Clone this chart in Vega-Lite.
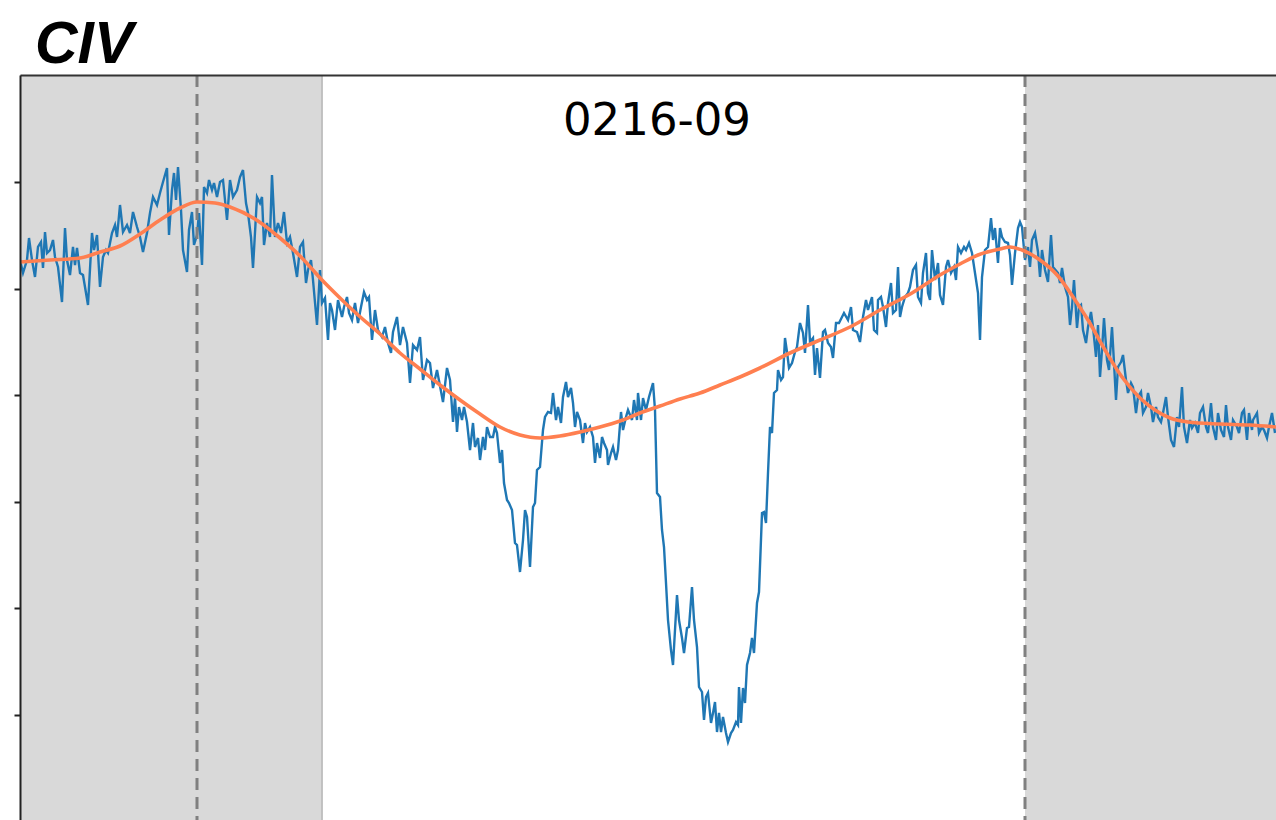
{
  "$schema": "https://vega.github.io/schema/vega-lite/v6.json",
  "width": 1256,
  "height": 745,
  "autosize": {"type": "none"},
  "padding": {"left": 20, "top": 75, "right": 0, "bottom": 0},
  "background": "white",
  "config": {"view": {"stroke": null}, "font": "DejaVu Sans"},
  "title": {
    "text": "CIV",
    "anchor": "start",
    "frame": "group",
    "font": "Liberation Sans",
    "fontSize": 59,
    "fontWeight": "bold",
    "fontStyle": "italic",
    "color": "black",
    "dx": 15,
    "offset": -1
  },
  "datasets": {
    "bands": [
      {"start": 0, "end": 302},
      {"start": 1005, "end": 1300}
    ],
    "markers": [{"x": 177}, {"x": 1005}],
    "label": [{"x": 637, "flux": 685, "text": "0216-09"}],
    "spectrum": [
      {"x":0,"flux":560},{"x":3,"flux":547},{"x":7,"flux":560},{"x":9,"flux":582},{"x":12,"flux":560},{"x":15,"flux":543},{"x":18,"flux":573},{"x":21,"flux":578},{"x":23,"flux":552},{"x":25,"flux":588},{"x":27,"flux":567},{"x":30,"flux":570},{"x":33,"flux":580},{"x":35,"flux":563},{"x":38,"flux":553},{"x":42,"flux":518},{"x":45,"flux":592},{"x":47,"flux":560},{"x":50,"flux":545},{"x":53,"flux":573},{"x":55,"flux":555},{"x":57,"flux":572},{"x":60,"flux":547},{"x":63,"flux":545},{"x":65,"flux":533},{"x":68,"flux":515},{"x":72,"flux":587},{"x":74,"flux":570},{"x":77,"flux":585},{"x":80,"flux":533},{"x":83,"flux":563},{"x":86,"flux":570},{"x":88,"flux":567},{"x":92,"flux":587},{"x":95,"flux":595},{"x":97,"flux":583},{"x":100,"flux":615},{"x":103,"flux":588},{"x":107,"flux":595},{"x":110,"flux":587},{"x":113,"flux":608},{"x":117,"flux":593},{"x":120,"flux":583},{"x":123,"flux":568},{"x":127,"flux":587},{"x":130,"flux":607},{"x":133,"flux":623},{"x":137,"flux":615},{"x":140,"flux":627},{"x":143,"flux":638},{"x":147,"flux":652},{"x":149,"flux":585},{"x":152,"flux":630},{"x":154,"flux":647},{"x":156,"flux":620},{"x":158,"flux":653},{"x":161,"flux":610},{"x":163,"flux":570},{"x":167,"flux":548},{"x":169,"flux":590},{"x":172,"flux":608},{"x":174,"flux":575},{"x":177,"flux":585},{"x":179,"flux":607},{"x":182,"flux":555},{"x":184,"flux":633},{"x":187,"flux":627},{"x":189,"flux":640},{"x":192,"flux":630},{"x":194,"flux":637},{"x":197,"flux":623},{"x":200,"flux":638},{"x":203,"flux":640},{"x":207,"flux":600},
      {"x":210,"flux":640},{"x":213,"flux":623},{"x":217,"flux":630},{"x":220,"flux":643},{"x":223,"flux":650},{"x":226,"flux":617},{"x":228,"flux":607},{"x":231,"flux":583},{"x":233,"flux":552},{"x":237,"flux":623},{"x":240,"flux":617},{"x":242,"flux":623},{"x":244,"flux":575},{"x":247,"flux":597},{"x":250,"flux":583},{"x":252,"flux":645},{"x":255,"flux":583},{"x":258,"flux":597},{"x":261,"flux":587},{"x":264,"flux":608},{"x":267,"flux":577},{"x":270,"flux":583},{"x":273,"flux":567},{"x":277,"flux":543},{"x":280,"flux":573},{"x":283,"flux":578},{"x":286,"flux":537},{"x":288,"flux":550},{"x":291,"flux":560},{"x":293,"flux":540},{"x":297,"flux":495},{"x":300,"flux":550},{"x":302,"flux":517},{"x":305,"flux":522},{"x":308,"flux":480},{"x":310,"flux":517},{"x":312,"flux":510},{"x":315,"flux":490},{"x":318,"flux":520},{"x":322,"flux":503},{"x":324,"flux":513},{"x":327,"flux":523},{"x":329,"flux":507},{"x":332,"flux":500},{"x":335,"flux":517},{"x":338,"flux":497},{"x":341,"flux":513},{"x":344,"flux":528},{"x":347,"flux":520},{"x":349,"flux":523},{"x":352,"flux":480},{"x":355,"flux":510},{"x":358,"flux":490},{"x":362,"flux":483},{"x":365,"flux":493},{"x":368,"flux":477},{"x":371,"flux":467},{"x":373,"flux":488},{"x":377,"flux":503},{"x":380,"flux":475},{"x":383,"flux":493},{"x":387,"flux":477},{"x":390,"flux":437},{"x":393,"flux":475},{"x":397,"flux":470},{"x":400,"flux":483},{"x":403,"flux":440},{"x":407,"flux":460},{"x":410,"flux":457},{"x":413,"flux":432},{"x":417,"flux":450},
      {"x":423,"flux":418},{"x":427,"flux":452},{"x":430,"flux":440},{"x":433,"flux":398},{"x":435,"flux":423},{"x":437,"flux":388},{"x":439,"flux":413},{"x":442,"flux":400},{"x":444,"flux":413},{"x":447,"flux":398},{"x":450,"flux":370},{"x":453,"flux":397},{"x":455,"flux":373},{"x":458,"flux":382},{"x":460,"flux":360},{"x":463,"flux":383},{"x":465,"flux":370},{"x":467,"flux":393},{"x":470,"flux":383},{"x":473,"flux":383},{"x":475,"flux":393},{"x":477,"flux":387},{"x":480,"flux":357},{"x":482,"flux":370},{"x":484,"flux":337},{"x":487,"flux":320},{"x":489,"flux":317},{"x":492,"flux":310},{"x":495,"flux":277},{"x":497,"flux":275},{"x":500,"flux":248},{"x":503,"flux":280},{"x":505,"flux":310},{"x":507,"flux":303},{"x":510,"flux":253},{"x":513,"flux":313},{"x":515,"flux":317},{"x":517,"flux":350},{"x":520,"flux":353},{"x":523,"flux":390},{"x":525,"flux":403},{"x":528,"flux":408},{"x":531,"flux":407},{"x":533,"flux":427},{"x":536,"flux":400},{"x":538,"flux":413},{"x":541,"flux":397},{"x":543,"flux":423},{"x":546,"flux":438},{"x":548,"flux":423},{"x":551,"flux":432},{"x":553,"flux":417},{"x":555,"flux":393},{"x":557,"flux":408},{"x":560,"flux":400},{"x":563,"flux":377},{"x":565,"flux":397},{"x":567,"flux":388},{"x":570,"flux":393},{"x":573,"flux":383},{"x":575,"flux":357},{"x":577,"flux":377},{"x":580,"flux":362},{"x":582,"flux":383},{"x":584,"flux":377},{"x":587,"flux":370},{"x":588,"flux":355},{"x":591,"flux":367},{"x":593,"flux":373},{"x":596,"flux":360},{"x":598,"flux":370},{"x":601,"flux":408},{"x":603,"flux":390},{"x":606,"flux":403},{"x":608,"flux":410},{"x":612,"flux":400},{"x":614,"flux":420},{"x":617,"flux":400},{"x":618,"flux":427},{"x":621,"flux":400},{"x":623,"flux":422},{"x":626,"flux":410},{"x":629,"flux":423},{"x":633,"flux":437},{"x":635,"flux":410},
      {"x":637,"flux":327},{"x":640,"flux":323},{"x":642,"flux":290},{"x":644,"flux":273},{"x":646,"flux":237},{"x":648,"flux":200},{"x":651,"flux":170},{"x":653,"flux":155},{"x":657,"flux":225},{"x":659,"flux":200},{"x":662,"flux":182},{"x":664,"flux":167},{"x":667,"flux":192},{"x":669,"flux":193},{"x":672,"flux":233},{"x":674,"flux":200},{"x":677,"flux":173},{"x":679,"flux":133},{"x":682,"flux":128},{"x":684,"flux":100},{"x":686,"flux":123},{"x":688,"flux":127},{"x":691,"flux":97},{"x":693,"flux":107},{"x":695,"flux":118},{"x":697,"flux":88},{"x":699,"flux":107},{"x":701,"flux":88},{"x":703,"flux":103},{"x":706,"flux":87},{"x":708,"flux":78},{"x":711,"flux":87},{"x":713,"flux":90},{"x":716,"flux":98},{"x":718,"flux":95},{"x":719,"flux":133},{"x":721,"flux":97},{"x":723,"flux":132},{"x":725,"flux":117},{"x":727,"flux":155},{"x":730,"flux":167},{"x":732,"flux":182},{"x":734,"flux":167},{"x":737,"flux":217},{"x":739,"flux":228},{"x":742,"flux":307},{"x":744,"flux":308},{"x":746,"flux":297},{"x":748,"flux":347},{"x":750,"flux":393},{"x":752,"flux":387},{"x":754,"flux":427},{"x":757,"flux":430},{"x":758,"flux":450},{"x":761,"flux":440},{"x":763,"flux":443},{"x":765,"flux":482},{"x":767,"flux":468},{"x":769,"flux":452},{"x":772,"flux":457},{"x":775,"flux":468},{"x":777,"flux":473},{"x":780,"flux":497},{"x":783,"flux":487},{"x":785,"flux":467},{"x":788,"flux":515},{"x":790,"flux":478},{"x":793,"flux":482},{"x":795,"flux":445},{"x":797,"flux":472},{"x":800,"flux":442},{"x":803,"flux":488},{"x":805,"flux":490},{"x":808,"flux":477},{"x":811,"flux":473},{"x":813,"flux":462},{"x":816,"flux":497},{"x":819,"flux":497},{"x":822,"flux":503},{"x":824,"flux":507},
      {"x":828,"flux":500},{"x":831,"flux":513},{"x":833,"flux":490},{"x":837,"flux":488},{"x":840,"flux":478},{"x":843,"flux":503},{"x":846,"flux":520},{"x":848,"flux":510},{"x":852,"flux":523},{"x":854,"flux":490},{"x":857,"flux":487},{"x":858,"flux":520},{"x":861,"flux":523},{"x":863,"flux":513},{"x":866,"flux":493},{"x":868,"flux":517},{"x":871,"flux":537},{"x":873,"flux":507},{"x":876,"flux":510},{"x":878,"flux":553},{"x":880,"flux":503},{"x":882,"flux":513},{"x":885,"flux":523},{"x":888,"flux":527},{"x":890,"flux":533},{"x":893,"flux":550},{"x":896,"flux":555},{"x":898,"flux":523},{"x":901,"flux":517},{"x":903,"flux":547},{"x":906,"flux":567},{"x":908,"flux":527},{"x":910,"flux":520},{"x":912,"flux":570},{"x":915,"flux":540},{"x":918,"flux":557},{"x":920,"flux":525},{"x":923,"flux":515},{"x":926,"flux":553},{"x":928,"flux":560},{"x":931,"flux":547},{"x":934,"flux":553},{"x":936,"flux":540},{"x":938,"flux":573},{"x":941,"flux":567},{"x":944,"flux":573},{"x":946,"flux":570},{"x":949,"flux":577},{"x":952,"flux":567},{"x":955,"flux":547},{"x":958,"flux":527},{"x":960,"flux":480},{"x":962,"flux":543},{"x":965,"flux":570},{"x":968,"flux":573},{"x":971,"flux":602},{"x":973,"flux":580},{"x":975,"flux":592},{"x":978,"flux":557},{"x":980,"flux":592},{"x":982,"flux":583},{"x":985,"flux":578},{"x":988,"flux":577},{"x":990,"flux":565},{"x":992,"flux":535},{"x":995,"flux":567},{"x":998,"flux":592},{"x":1000,"flux":598},{"x":1002,"flux":593},{"x":1005,"flux":560},{"x":1008,"flux":573},{"x":1010,"flux":553},{"x":1012,"flux":580},{"x":1015,"flux":587},{"x":1018,"flux":568},{"x":1020,"flux":543},{"x":1022,"flux":570},{"x":1025,"flux":550},{"x":1028,"flux":538},{"x":1031,"flux":585},{"x":1033,"flux":553},
      {"x":1038,"flux":547},{"x":1040,"flux":537},{"x":1042,"flux":552},{"x":1045,"flux":533},{"x":1048,"flux":523},{"x":1050,"flux":495},{"x":1052,"flux":513},{"x":1054,"flux":540},{"x":1057,"flux":492},{"x":1059,"flux":513},{"x":1061,"flux":515},{"x":1063,"flux":490},{"x":1066,"flux":477},{"x":1068,"flux":493},{"x":1071,"flux":508},{"x":1073,"flux":493},{"x":1076,"flux":463},{"x":1078,"flux":495},{"x":1080,"flux":443},{"x":1082,"flux":470},{"x":1084,"flux":502},{"x":1087,"flux":460},{"x":1089,"flux":450},{"x":1092,"flux":493},{"x":1094,"flux":457},{"x":1096,"flux":420},{"x":1098,"flux":453},{"x":1101,"flux":458},{"x":1103,"flux":465},{"x":1106,"flux":440},{"x":1108,"flux":427},{"x":1111,"flux":437},{"x":1113,"flux":433},{"x":1116,"flux":407},{"x":1118,"flux":423},{"x":1121,"flux":428},{"x":1123,"flux":407},{"x":1126,"flux":413},{"x":1128,"flux":427},{"x":1131,"flux":413},{"x":1133,"flux":398},{"x":1136,"flux":413},{"x":1138,"flux":403},{"x":1141,"flux":398},{"x":1143,"flux":407},{"x":1146,"flux":423},{"x":1148,"flux":403},{"x":1151,"flux":380},{"x":1154,"flux":373},{"x":1157,"flux":403},{"x":1159,"flux":393},{"x":1162,"flux":433},{"x":1164,"flux":393},{"x":1167,"flux":377},{"x":1170,"flux":400},{"x":1172,"flux":392},{"x":1175,"flux":397},{"x":1178,"flux":387},{"x":1180,"flux":407},{"x":1183,"flux":413},{"x":1186,"flux":393},{"x":1188,"flux":387},{"x":1191,"flux":417},{"x":1193,"flux":393},{"x":1196,"flux":380},{"x":1198,"flux":407},{"x":1201,"flux":390},{"x":1204,"flux":383},{"x":1206,"flux":415},{"x":1208,"flux":393},{"x":1211,"flux":380},{"x":1213,"flux":400},{"x":1217,"flux":393},{"x":1219,"flux":387},{"x":1222,"flux":407},{"x":1224,"flux":410},{"x":1227,"flux":380},{"x":1229,"flux":407},{"x":1232,"flux":390},{"x":1233,"flux":400},{"x":1237,"flux":407},{"x":1239,"flux":387},{"x":1242,"flux":393},{"x":1244,"flux":390},{"x":1247,"flux":382},{"x":1249,"flux":393},{"x":1252,"flux":407},{"x":1255,"flux":387}
    ],
    "continuum": [
      {"x":0,"flux":558},{"x":30,"flux":560},{"x":60,"flux":562},{"x":80,"flux":568},{"x":100,"flux":574},{"x":120,"flux":586},{"x":140,"flux":600},{"x":160,"flux":612},{"x":177,"flux":618},{"x":195,"flux":617},{"x":210,"flux":613},{"x":238,"flux":599},{"x":260,"flux":582},{"x":280,"flux":564},{"x":302,"flux":540},{"x":320,"flux":522},{"x":338,"flux":505},{"x":360,"flux":486},{"x":380,"flux":467},{"x":400,"flux":451},{"x":420,"flux":435},{"x":440,"flux":420},{"x":460,"flux":406},{"x":480,"flux":393},{"x":500,"flux":385},{"x":520,"flux":382},{"x":540,"flux":384},{"x":560,"flux":388},{"x":580,"flux":393},{"x":600,"flux":399},{"x":620,"flux":407},{"x":640,"flux":414},{"x":660,"flux":421},{"x":680,"flux":427},{"x":700,"flux":435},{"x":720,"flux":443},{"x":740,"flux":452},{"x":770,"flux":467},{"x":800,"flux":480},{"x":830,"flux":493},{"x":860,"flux":510},{"x":892,"flux":527},{"x":920,"flux":545},{"x":940,"flux":556},{"x":958,"flux":565},{"x":980,"flux":571},{"x":990,"flux":573},{"x":1002,"flux":570},{"x":1020,"flux":560},{"x":1038,"flux":544},{"x":1055,"flux":520},{"x":1068,"flux":500},{"x":1085,"flux":470},{"x":1102,"flux":443},{"x":1120,"flux":422},{"x":1135,"flux":410},{"x":1150,"flux":402},{"x":1168,"flux":398},{"x":1200,"flux":396},{"x":1230,"flux":395},{"x":1256,"flux":393}
    ]
  },
  "layer": [
    {
      "data": {"name": "bands"},
      "mark": {"type": "rect", "color": "#d9d9d9", "clip": true},
      "encoding": {
        "x": {
          "field": "start",
          "type": "quantitative",
          "scale": {"domain": [0, 1256], "nice": false, "zero": false},
          "axis": {"orient": "top", "labels": false, "ticks": false, "title": null, "grid": false, "domainColor": "#333333", "domainWidth": 2, "zindex": 1}
        },
        "x2": {"field": "end"}
      }
    },
    {
      "data": {"name": "bands"},
      "mark": {"type": "rule", "color": "#bdbdbd", "strokeWidth": 1.8, "clip": true},
      "encoding": {"x": {"field": "end", "type": "quantitative"}}
    },
    {
      "data": {"name": "spectrum"},
      "mark": {"type": "line", "color": "#1f77b4", "strokeWidth": 2.4, "clip": true},
      "encoding": {
        "x": {"field": "x", "type": "quantitative"},
        "y": {
          "field": "flux",
          "type": "quantitative",
          "scale": {"domain": [0, 745], "nice": false, "zero": false},
          "axis": {"values": [105, 212, 318, 425, 531, 638], "labels": false, "title": null, "grid": false, "tickSize": 6, "tickWidth": 2, "tickColor": "#222222", "domainColor": "#222222", "domainWidth": 2, "zindex": 1}
        }
      }
    },
    {
      "data": {"name": "markers"},
      "mark": {"type": "rule", "color": "#808080", "strokeWidth": 3, "strokeDash": [12, 7]},
      "encoding": {"x": {"field": "x", "type": "quantitative"}}
    },
    {
      "data": {"name": "continuum"},
      "mark": {"type": "line", "color": "#ff7f50", "strokeWidth": 3.6, "interpolate": "monotone", "clip": true},
      "encoding": {
        "x": {"field": "x", "type": "quantitative"},
        "y": {"field": "flux", "type": "quantitative"}
      }
    },
    {
      "data": {"name": "label"},
      "mark": {"type": "text", "font": "DejaVu Sans", "fontSize": 45, "align": "center", "baseline": "alphabetic", "color": "black"},
      "encoding": {
        "x": {"field": "x", "type": "quantitative"},
        "y": {"field": "flux", "type": "quantitative"},
        "text": {"field": "text"}
      }
    }
  ]
}
